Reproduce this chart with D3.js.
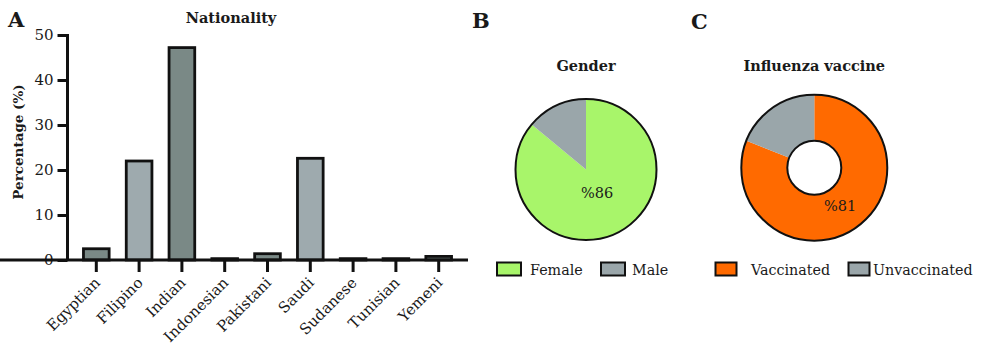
<!DOCTYPE html>
<html>
<head>
<meta charset="utf-8">
<script src="https://cdn.jsdelivr.net/npm/d3@7"></script>
<style>
  body { margin: 0; background: #fff; }
  svg { display: block; }
  text { font-family: "DejaVu Serif", serif; fill: #1a1a1a; }
</style>
</head>
<body>
<svg id="chart" width="1000" height="363"></svg>
<script>
// ---- Data ----
const nationalities = ["Egyptian", "Filipino", "Indian", "Indonesian", "Pakistani", "Saudi", "Sudanese", "Tunisian", "Yemeni"];
const nationalityPct = [2.5, 22.0, 47.2, 0.3, 1.4, 22.6, 0.3, 0.3, 0.8];
const yTicks = [0, 10, 20, 30, 40, 50];

const genderLabels = ["Female", "Male"];
const genderPct = [86, 14];

const vaccineLabels = ["Vaccinated", "Unvaccinated"];
const vaccinePct = [81, 19];

// ---- Styles ----
const darkGray = "#7a8986";
const lightGray = "#9eaaae";
const barColors = [darkGray, lightGray, darkGray, darkGray, darkGray, lightGray, darkGray, darkGray, darkGray];
const genderColors = ["#a8f56a", "#9aa6aa"];
const vaccineColors = ["#ff6a00", "#9aa6aa"];

const svg = d3.select("#chart");

// ---- Panel A: bar chart ----
const x = d3.scaleBand().domain(nationalities).range([74.9, 460.1]).paddingInner(0.4).paddingOuter(0.2);
const y = d3.scaleLinear().domain([0, 50]).range([260, 35]);

const gA = svg.append("g");

gA.selectAll("rect.bar")
  .data(nationalities)
  .enter().append("rect")
  .attr("class", "bar")
  .attr("x", d => x(d))
  .attr("width", x.bandwidth())
  .attr("y", (d, i) => y(nationalityPct[i]))
  .attr("height", (d, i) => y(0) - y(nationalityPct[i]))
  .attr("fill", (d, i) => barColors[i])
  .attr("stroke", "#111")
  .attr("stroke-width", 2.8);

// y axis
const yAxis = d3.axisLeft(y).tickValues(yTicks).tickSize(10).tickPadding(4);
const gy = gA.append("g").attr("transform", "translate(67.5,0)").call(yAxis);
gy.select(".domain").attr("stroke", "#111").attr("stroke-width", 3).attr("d", "M0,34V260");
gy.selectAll(".tick line").attr("stroke", "#111").attr("stroke-width", 3);
gy.selectAll(".tick text").style("font-family", "DejaVu Serif").style("font-size", "15px").attr("fill", "#1a1a1a");

// x axis
const xAxis = d3.axisBottom(x).tickSize(12).tickSizeOuter(0);
const gx = gA.append("g").attr("transform", "translate(0,260)").call(xAxis);
gx.select(".domain").attr("stroke", "#111").attr("stroke-width", 3).attr("d", "M-10.5,0H468");
gx.selectAll(".tick line").attr("stroke", "#111").attr("stroke-width", 3);
gx.selectAll(".tick text")
  .style("font-family", "DejaVu Serif").style("font-size", "15px").attr("fill", "#1a1a1a")
  .attr("text-anchor", "end")
  .attr("x", 0).attr("y", 0).attr("dy", "0.35em")
  .attr("transform", "translate(1,20) rotate(-45)");

// titles
gA.append("text").attr("x", 231).attr("y", 23).attr("text-anchor", "middle")
  .style("font-weight", "bold").style("font-size", "14.5px").text("Nationality");
gA.append("text").attr("transform", "translate(23,142) rotate(-90)").attr("text-anchor", "middle")
  .style("font-weight", "bold").style("font-size", "13.5px").text("Percentage (%)");

// panel letters
const letters = [["A", 8, 27], ["B", 472, 28], ["C", 691, 29]];
svg.selectAll("text.letter").data(letters).enter().append("text")
  .attr("class", "letter")
  .attr("x", d => d[1]).attr("y", d => d[2])
  .style("font-weight", "bold").style("font-size", "21px").text(d => d[0]);

// ---- Pie helper ----
function drawPie(cx, cy, rOuter, rInner, values, colors, labelRadius, title, titleY) {
  const g = svg.append("g").attr("transform", `translate(${cx},${cy})`);
  const pie = d3.pie().sort(null);
  const arcs = pie(values);
  const arc = d3.arc().innerRadius(rInner).outerRadius(rOuter);
  g.selectAll("path.slice").data(arcs).enter().append("path")
    .attr("class", "slice")
    .attr("d", arc)
    .attr("fill", (d, i) => colors[i]);
  g.append("circle").attr("r", rOuter).attr("fill", "none").attr("stroke", "#111").attr("stroke-width", 2);
  if (rInner > 0) {
    g.append("circle").attr("r", rInner).attr("fill", "none").attr("stroke", "#111").attr("stroke-width", 2);
  }
  const labelArc = d3.arc().innerRadius(labelRadius).outerRadius(labelRadius);
  const c = labelArc.centroid(arcs[0]);
  g.append("text").attr("x", c[0]).attr("y", c[1]).attr("dy", "0.35em")
    .attr("text-anchor", "middle").style("font-size", "14.5px").text("%" + values[0]);
  svg.append("text").attr("x", cx).attr("y", titleY).attr("text-anchor", "middle")
    .style("font-weight", "bold").style("font-size", "14.5px").text(title);
}

drawPie(586, 169.5, 70.5, 0, genderPct, genderColors, 26, "Gender", 71);
drawPie(814.3, 167.7, 73, 27, vaccinePct, vaccineColors, 46, "Influenza vaccine", 71);

// ---- Legends ----
function drawLegend(items, colors, boxXs, boxWs, textXs) {
  const g = svg.append("g");
  g.selectAll("rect").data(items).enter().append("rect")
    .attr("x", (d, i) => boxXs[i]).attr("y", 262.5)
    .attr("width", (d, i) => boxWs[i]).attr("height", 13)
    .attr("fill", (d, i) => colors[i]).attr("stroke", "#111").attr("stroke-width", 2);
  g.selectAll("text").data(items).enter().append("text")
    .attr("x", (d, i) => textXs[i]).attr("y", 275)
    .style("font-size", "14.3px").text(d => d);
}
drawLegend(genderLabels, genderColors, [497, 601], [24, 24], [530, 632]);
drawLegend(vaccineLabels, vaccineColors, [715.5, 848.5], [21, 21], [751, 873]);
</script>
</body>
</html>
